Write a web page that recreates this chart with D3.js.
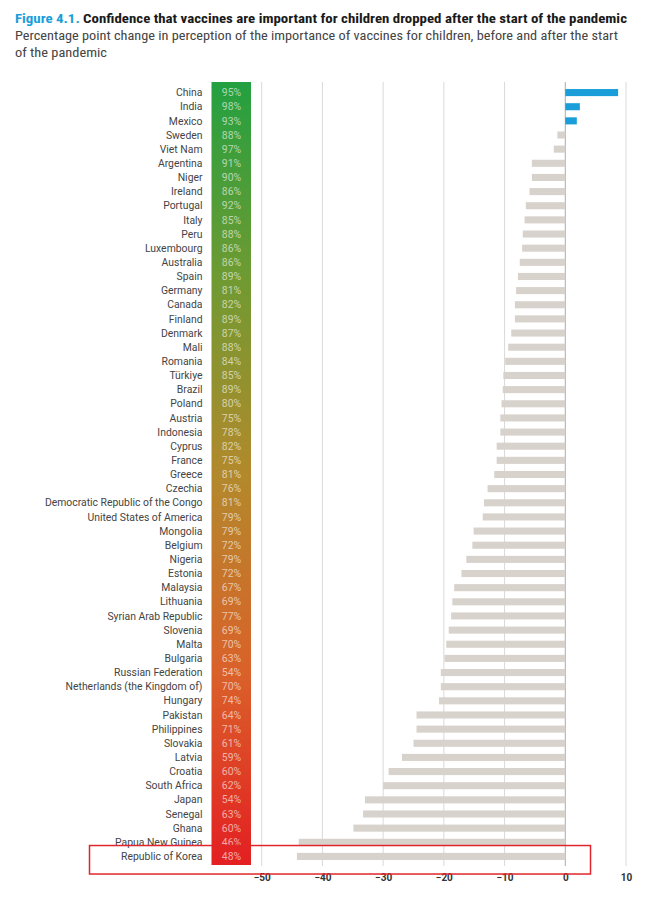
<!DOCTYPE html>
<html><head><meta charset="utf-8">
<script src="https://cdn.jsdelivr.net/npm/d3@7"></script>
<style>
body{margin:0;background:#fff;}
svg{display:block;}
</style></head>
<body>
<svg id="chart" width="647" height="898"></svg>
<script>
const countries = ["China","India","Mexico","Sweden","Viet Nam","Argentina","Niger","Ireland","Portugal","Italy","Peru","Luxembourg","Australia","Spain","Germany","Canada","Finland","Denmark","Mali","Romania","Türkiye","Brazil","Poland","Austria","Indonesia","Cyprus","France","Greece","Czechia","Democratic Republic of the Congo","United States of America","Mongolia","Belgium","Nigeria","Estonia","Malaysia","Lithuania","Syrian Arab Republic","Slovenia","Malta","Bulgaria","Russian Federation","Netherlands (the Kingdom of)","Hungary","Pakistan","Philippines","Slovakia","Latvia","Croatia","South Africa","Japan","Senegal","Ghana","Papua New Guinea","Republic of Korea"];
const confidence = [95,98,93,88,97,91,90,86,92,85,88,86,86,89,81,82,89,87,88,84,85,89,80,75,78,82,75,81,76,81,79,79,72,79,72,67,69,77,69,70,63,54,70,74,64,71,61,59,60,62,54,63,60,46,48];
const change = [8.7,2.4,1.9,-1.3,-1.9,-5.5,-5.5,-5.9,-6.5,-6.7,-7.0,-7.1,-7.5,-7.8,-8.1,-8.3,-8.3,-8.9,-9.4,-9.9,-10.2,-10.3,-10.5,-10.7,-10.7,-11.3,-11.3,-11.7,-12.8,-13.4,-13.6,-15.1,-15.3,-16.3,-17.1,-18.3,-18.6,-18.8,-19.2,-19.6,-19.9,-20.5,-20.5,-20.8,-24.5,-24.5,-25.0,-26.9,-29.1,-30.0,-33.0,-33.3,-34.9,-43.9,-44.2];
const xTicks = [-50,-40,-30,-20,-10,0,10];
const highlight = "Republic of Korea";

const svg = d3.select("#chart");
const font = "Roboto, 'Liberation Sans', Arial, sans-serif";

// Title
const title = svg.append("text").attr("x",15).attr("y",23)
  .attr("font-family","'Liberation Sans Narrow', 'Roboto Condensed', Roboto, sans-serif")
  .attr("font-size",13.5).attr("font-weight","bold")
  .attr("textLength",612).attr("lengthAdjust","spacingAndGlyphs");
title.append("tspan").attr("fill","#1a9ed9").text("Figure 4.1. ");
title.append("tspan").attr("fill","#1a1a1a").text("Confidence that vaccines are important for children dropped after the start of the pandemic");

svg.append("text").attr("x",15).attr("y",40)
  .attr("font-family","'Liberation Sans Narrow', 'Roboto Condensed', Roboto, sans-serif")
  .attr("font-size",13).attr("fill","#444")
  .attr("textLength",603).attr("lengthAdjust","spacingAndGlyphs")
  .text("Percentage point change in perception of the importance of vaccines for children, before and after the start");
svg.append("text").attr("x",15).attr("y",57)
  .attr("font-family","'Liberation Sans Narrow', 'Roboto Condensed', Roboto, sans-serif")
  .attr("font-size",13).attr("fill","#444")
  .attr("textLength",92).attr("lengthAdjust","spacingAndGlyphs")
  .text("of the pandemic");

const x = d3.scaleLinear().domain([-50,10]).range([261.7,626]);
const y = d3.scaleBand().domain(countries).range([85.5,863.5]).paddingInner(0.5).paddingOuter(0.25);

// gridlines
svg.append("g").selectAll("line").data(xTicks).join("line")
  .attr("x1",d=>x(d)).attr("x2",d=>x(d))
  .attr("y1",82).attr("y2",866)
  .attr("stroke",d=>d===0?"#aaa":"#d9d9d9").attr("stroke-width",1);

// bars
svg.append("g").selectAll("rect").data(countries).join("rect")
  .attr("x",(d,i)=>x(Math.min(0,change[i])))
  .attr("width",(d,i)=>Math.abs(x(change[i])-x(0)))
  .attr("y",d=>y(d))
  .attr("height",y.bandwidth())
  .attr("fill",(d,i)=>change[i]>0?"#1a9ed9":"#d8d2cc");

// gradient box
const defs = svg.append("defs");
const grad = defs.append("linearGradient").attr("id","g1").attr("x1",0).attr("x2",0).attr("y1",0).attr("y2",1);
[["0%","#23a040"],["25%","#6f9a32"],["50%","#b2892c"],["75%","#d9622a"],["100%","#e31f22"]]
  .forEach(s=>grad.append("stop").attr("offset",s[0]).attr("stop-color",s[1]));
svg.append("rect").attr("x",211.5).attr("width",39.5).attr("y",82).attr("height",783).attr("fill","url(#g1)");

// percent labels
svg.append("g").selectAll("text").data(countries).join("text")
  .attr("x",231.5).attr("y",d=>y(d)+y.bandwidth()/2)
  .attr("dy","0.35em").attr("text-anchor","middle")
  .attr("font-family",font).attr("font-size",10.4)
  .attr("fill","rgba(255,255,255,0.6)")
  .text((d,i)=>confidence[i]+"%");

// country labels
svg.append("g").selectAll("text").data(countries).join("text")
  .attr("x",202.5).attr("y",d=>y(d)+y.bandwidth()/2)
  .attr("dy","0.35em").attr("text-anchor","end")
  .attr("font-family",font).attr("font-size",10.4)
  .attr("fill","#444")
  .text(d=>d);

// axis
const axis = svg.append("g").attr("transform","translate(0,868)")
  .call(d3.axisBottom(x).tickValues(xTicks).tickSize(0).tickPadding(6));
axis.select(".domain").remove();
axis.selectAll("text").attr("font-family",font).attr("font-size",10).attr("font-weight","bold").attr("fill","#333");

// highlight box
svg.append("rect").attr("x",89.5).attr("y",y(highlight)-y.step()*0.45-1).attr("width",501).attr("height",28.5)
  .attr("fill","none").attr("stroke","#e0262a").attr("stroke-width",1.5);
</script>
</body></html>
